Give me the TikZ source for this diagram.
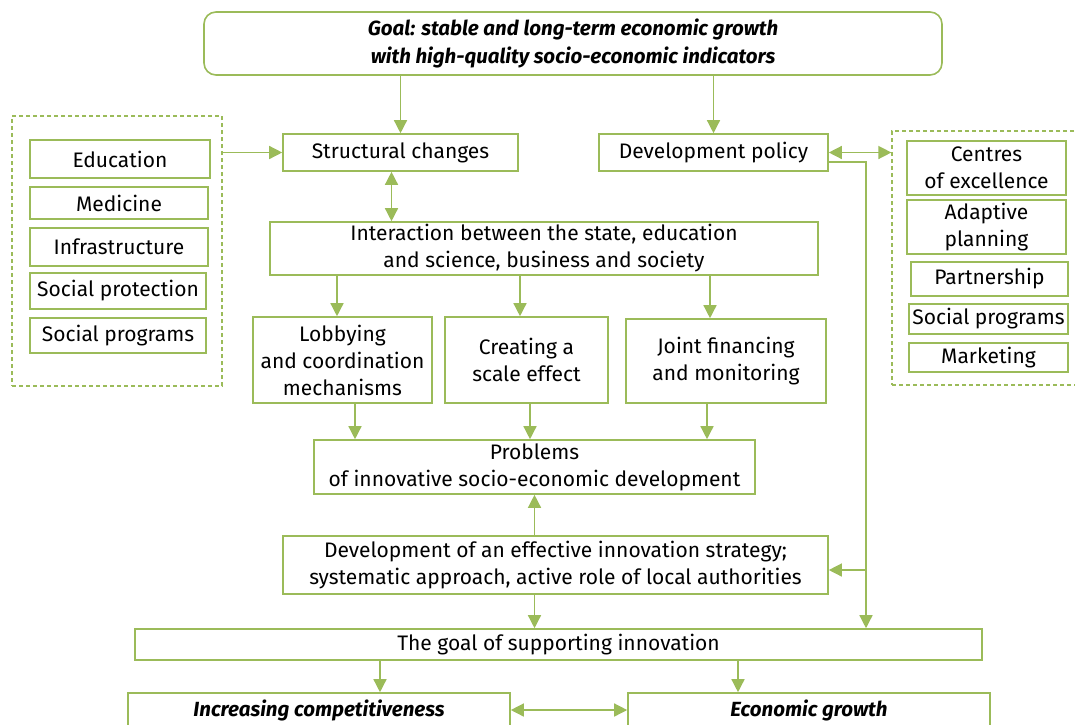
\documentclass[tikz,border=0pt]{standalone}
\usepackage{fontspec}
\setmainfont{Fira Sans}
\usepackage{tikz}
\usetikzlibrary{arrows.meta,calc}
\definecolor{leaf}{RGB}{155,187,89}

\begin{document}
\begin{tikzpicture}[x=1pt, y=-1pt,
		box/.style={draw=leaf, line width=1.6pt, inner sep=0pt, align=center, font=\fontsize{21}{27}\selectfont},
		group/.style={draw=leaf, line width=1.2pt, dash pattern=on 4pt off 3pt, inner sep=0pt},
		arr/.style={draw=leaf, line width=1.4pt, -{Triangle[length=13pt,width=13pt]}},
		twoway/.style={draw=leaf, line width=1.4pt, {Triangle[length=13pt,width=13pt]}-{Triangle[length=13pt,width=13pt]}}]
			%%%%% START %%%%%
			\useasboundingbox (0, 0) rectangle (1075, 724);
			
			\node[box, rounded corners=12pt, minimum width=738, minimum height=63, font=\fontsize{20.5}{28}\selectfont\bfseries\itshape] (goal) at (573, 43.5) {Goal: stable and long-term economic growth\\with high-quality socio-economic indicators};
			
			% left group
			\node[group, minimum width=210, minimum height=270] (leftgrp) at (117, 251) {};
			\node[box, minimum width=180, minimum height=38] (edu) at (120, 159) {Education};
			\node[box, minimum width=178, minimum height=32] (med) at (119, 203) {Medicine};
			\node[box, minimum width=178, minimum height=38] (infra) at (119, 247) {Infrastructure};
			\node[box, minimum width=176, minimum height=36] (sprot) at (118, 291) {Social protection};
			\node[box, minimum width=176, minimum height=35] (sprog) at (118, 335.5) {Social programs};
			
			% right group
			\node[group, minimum width=188, minimum height=254] (rightgrp) at (986, 258) {};
			\node[box, minimum width=159, minimum height=54] (coe) at (986.5, 168) {Centres\\of excellence};
			\node[box, minimum width=159, minimum height=54] (adp) at (986.5, 227) {Adaptive\\planning};
			\node[box, minimum width=157, minimum height=34] (part) at (989.5, 279) {Partnership};
			\node[box, minimum width=159, minimum height=30] (sprog2) at (988.5, 319) {Social programs};
			\node[box, minimum width=159, minimum height=29] (mkt) at (988.5, 357.5) {Marketing};
			
			\node[box, minimum width=235, minimum height=37] (sc) at (400.5, 152.5) {Structural changes};
			\node[box, minimum width=229, minimum height=37] (dp) at (713.5, 152.5) {Development policy};
			
			\node[box, minimum width=548, minimum height=53] (inter) at (544, 248.5) {Interaction between the state, education\\and science, business and society};
			
			\node[box, minimum width=179, minimum height=86] (lob) at (342.5, 360) {Lobbying\\and coordination\\mechanisms};
			\node[box, minimum width=163, minimum height=86] (scale) at (526.5, 360) {Creating a\\scale effect};
			\node[box, minimum width=200, minimum height=84] (joint) at (726, 361) {Joint financing\\and monitoring};
			
			\node[box, minimum width=441, minimum height=54] (prob) at (534.5, 467) {Problems\\of innovative socio-economic development};
			\node[box, minimum width=545, minimum height=58] (strat) at (555.5, 565) {Development of an effective innovation strategy;\\systematic approach, active role of local authorities};
			\node[box, minimum width=847, minimum height=31] (sup) at (558.5, 644.5) {The goal of supporting innovation};
			
			\node[box, minimum width=382, minimum height=34, font=\fontsize{20.5}{27}\selectfont\bfseries\itshape] (comp) at (319, 710) {Increasing competitiveness};
			\node[box, minimum width=362, minimum height=34, font=\fontsize{20.5}{27}\selectfont\bfseries\itshape] (eg) at (809, 710) {Economic growth};
			
			% connectors
			\draw[arr] (sc |- goal.south) -- (sc.north);
			\draw[arr] (dp |- goal.south) -- (dp.north);
			\draw[arr] (leftgrp.east |- sc) -- (sc.west);
			\draw[twoway] (dp.east) -- (rightgrp.west |- dp);
			\draw[twoway] ([xshift=-9]sc.south) -- ([xshift=-9]sc.south |- inter.north);
			
			\draw[arr] (337, 0 |- inter.south) -- (337, 0 |- lob.north);
			\draw[arr] (520, 0 |- inter.south) -- (520, 0 |- scale.north);
			\draw[arr] (710, 0 |- inter.south) -- (710, 0 |- joint.north);
			
			\draw[arr] (355, 0 |- lob.south) -- (355, 0 |- prob.north);
			\draw[arr] (530, 0 |- scale.south) -- (530, 0 |- prob.north);
			\draw[arr] (707, 0 |- joint.south) -- (707, 0 |- prob.north);
			
			\draw[arr] (prob.south |- strat.north) -- (prob.south);
			\draw[arr] (prob.south |- strat.south) -- (prob.south |- sup.north);
			
			\coordinate (bend) at (866, 162);
			\draw[arr] (dp.east |- bend) -- (bend) -- (bend |- sup.north);
			\draw[arr] (bend |- 0,570) -- (strat.east |- 0,570);
			
			\draw[arr] (380, 0 |- sup.south) -- (380, 0 |- comp.north);
			\draw[arr] (738, 0 |- sup.south) -- (738, 0 |- eg.north);
			\draw[twoway] (comp.east) -- (eg.west);
			
			%%%%% END %%%%%
\end{tikzpicture}
\end{document}
